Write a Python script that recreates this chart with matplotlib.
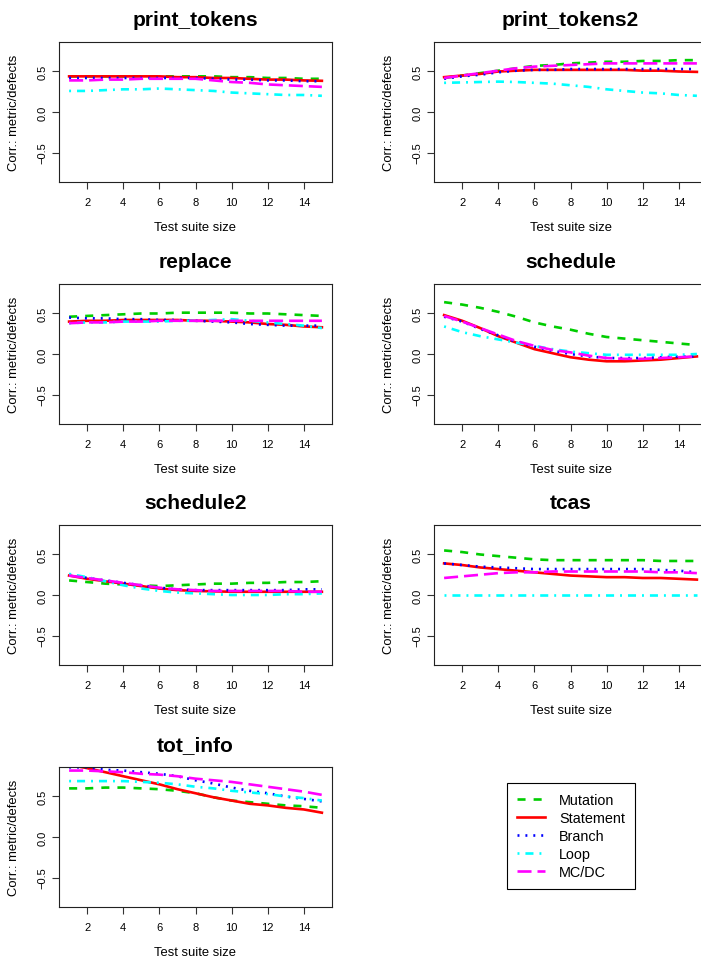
import matplotlib
matplotlib.use("Agg")
import matplotlib.pyplot as plt
from matplotlib.lines import Line2D

plt.rcParams["font.family"] = ["Liberation Sans", "DejaVu Sans"]
plt.rcParams["lines.scale_dashes"] = False

SIZES = list(range(1, 16))
METRICS = ["Mutation", "Statement", "Branch", "Loop", "MC/DC"]
PROGRAMS = ["print_tokens", "print_tokens2", "replace", "schedule", "schedule2", "tcas", "tot_info"]

# rows: Mutation, Statement, Branch, Loop, MC/DC
PRINT_TOKENS = [
    [0.44, 0.44, 0.44, 0.44, 0.44, 0.44, 0.44, 0.44, 0.44, 0.43, 0.43, 0.42, 0.42, 0.41, 0.41],
    [0.44, 0.44, 0.44, 0.44, 0.44, 0.44, 0.43, 0.43, 0.42, 0.42, 0.41, 0.40, 0.40, 0.39, 0.385],
    [0.42, 0.42, 0.42, 0.42, 0.42, 0.42, 0.42, 0.42, 0.41, 0.40, 0.40, 0.39, 0.39, 0.38, 0.38],
    [0.26, 0.26, 0.27, 0.28, 0.28, 0.29, 0.28, 0.27, 0.26, 0.24, 0.23, 0.22, 0.21, 0.21, 0.20],
    [0.39, 0.39, 0.40, 0.40, 0.41, 0.41, 0.41, 0.41, 0.39, 0.37, 0.36, 0.34, 0.33, 0.32, 0.31],
]
PRINT_TOKENS2 = [
    [0.42, 0.45, 0.48, 0.51, 0.54, 0.57, 0.58, 0.60, 0.61, 0.62, 0.62, 0.63, 0.63, 0.64, 0.64],
    [0.43, 0.45, 0.47, 0.50, 0.51, 0.52, 0.52, 0.52, 0.52, 0.52, 0.52, 0.51, 0.51, 0.50, 0.495],
    [0.41, 0.44, 0.46, 0.49, 0.51, 0.52, 0.52, 0.53, 0.53, 0.53, 0.53, 0.53, 0.53, 0.53, 0.53],
    [0.36, 0.365, 0.37, 0.375, 0.37, 0.36, 0.35, 0.33, 0.31, 0.28, 0.26, 0.24, 0.23, 0.21, 0.20],
    [0.42, 0.45, 0.48, 0.51, 0.54, 0.56, 0.57, 0.58, 0.59, 0.60, 0.60, 0.60, 0.60, 0.60, 0.60],
]
REPLACE = [
    [0.46, 0.47, 0.48, 0.49, 0.50, 0.50, 0.51, 0.51, 0.51, 0.51, 0.50, 0.50, 0.49, 0.48, 0.47],
    [0.40, 0.41, 0.41, 0.42, 0.42, 0.42, 0.42, 0.41, 0.41, 0.40, 0.39, 0.37, 0.36, 0.34, 0.33],
    [0.45, 0.44, 0.44, 0.43, 0.43, 0.42, 0.42, 0.41, 0.40, 0.39, 0.37, 0.36, 0.35, 0.35, 0.35],
    [0.38, 0.39, 0.39, 0.40, 0.40, 0.40, 0.41, 0.41, 0.42, 0.43, 0.41, 0.39, 0.37, 0.35, 0.32],
    [0.38, 0.39, 0.39, 0.40, 0.40, 0.41, 0.41, 0.41, 0.41, 0.41, 0.41, 0.41, 0.41, 0.41, 0.41],
]
SCHEDULE = [
    [0.64, 0.61, 0.57, 0.52, 0.46, 0.39, 0.34, 0.30, 0.25, 0.21, 0.19, 0.17, 0.15, 0.13, 0.11],
    [0.48, 0.41, 0.32, 0.22, 0.14, 0.06, 0.01, -0.04, -0.07, -0.09, -0.09, -0.08, -0.07, -0.05, -0.03],
    [0.46, 0.40, 0.31, 0.23, 0.15, 0.09, 0.04, 0.00, -0.03, -0.05, -0.05, -0.05, -0.04, -0.03, -0.03],
    [0.34, 0.27, 0.22, 0.18, 0.14, 0.10, 0.06, 0.03, 0.01, -0.01, -0.01, -0.01, -0.01, -0.01, 0.00],
    [0.47, 0.40, 0.32, 0.24, 0.16, 0.10, 0.05, 0.02, -0.02, -0.05, -0.06, -0.06, -0.05, -0.04, -0.03],
]
SCHEDULE2 = [
    [0.18, 0.16, 0.14, 0.13, 0.12, 0.11, 0.12, 0.13, 0.14, 0.14, 0.15, 0.15, 0.16, 0.16, 0.17],
    [0.24, 0.20, 0.17, 0.14, 0.11, 0.08, 0.06, 0.05, 0.045, 0.04, 0.04, 0.04, 0.04, 0.04, 0.04],
    [0.25, 0.21, 0.18, 0.15, 0.12, 0.09, 0.07, 0.06, 0.06, 0.06, 0.06, 0.06, 0.06, 0.07, 0.07],
    [0.26, 0.22, 0.17, 0.12, 0.08, 0.05, 0.03, 0.02, 0.01, 0.00, 0.00, 0.00, 0.01, 0.01, 0.02],
    [0.24, 0.21, 0.18, 0.15, 0.12, 0.09, 0.07, 0.06, 0.05, 0.05, 0.05, 0.05, 0.05, 0.04, 0.04],
]
TCAS = [
    [0.55, 0.53, 0.50, 0.48, 0.46, 0.44, 0.43, 0.43, 0.43, 0.43, 0.43, 0.43, 0.42, 0.42, 0.42],
    [0.39, 0.37, 0.34, 0.32, 0.30, 0.28, 0.26, 0.24, 0.23, 0.22, 0.22, 0.21, 0.21, 0.20, 0.19],
    [0.39, 0.37, 0.35, 0.34, 0.33, 0.32, 0.32, 0.32, 0.32, 0.32, 0.32, 0.32, 0.31, 0.30, 0.28],
    [0.00, 0.00, 0.00, 0.00, 0.00, 0.00, 0.00, 0.00, 0.00, 0.00, 0.00, 0.00, 0.00, 0.00, 0.00],
    [0.21, 0.23, 0.25, 0.27, 0.28, 0.28, 0.29, 0.29, 0.29, 0.29, 0.29, 0.29, 0.28, 0.28, 0.27],
]
TOT_INFO = [
    [0.60, 0.60, 0.61, 0.61, 0.60, 0.59, 0.57, 0.54, 0.49, 0.45, 0.43, 0.41, 0.39, 0.38, 0.36],
    [0.89, 0.85, 0.80, 0.75, 0.70, 0.65, 0.59, 0.54, 0.49, 0.45, 0.41, 0.39, 0.36, 0.34, 0.30],
    [0.86, 0.86, 0.83, 0.82, 0.80, 0.78, 0.75, 0.70, 0.66, 0.61, 0.57, 0.54, 0.50, 0.47, 0.44],
    [0.69, 0.69, 0.69, 0.69, 0.68, 0.67, 0.65, 0.62, 0.60, 0.57, 0.55, 0.53, 0.50, 0.48, 0.45],
    [0.82, 0.82, 0.81, 0.80, 0.78, 0.77, 0.75, 0.72, 0.70, 0.68, 0.65, 0.62, 0.59, 0.56, 0.52],
]
DATA = [PRINT_TOKENS, PRINT_TOKENS2, REPLACE, SCHEDULE, SCHEDULE2, TCAS, TOT_INFO]

COLORS = ["#00CD00", "#FF0000", "#0000FF", "#00FFFF", "#FF00FF"]
# R-like line types, dash lengths in points
STYLES = [(0, (5.8, 5.8)), "-", (0, (1.4, 4.3)), (0, (1.4, 4.3, 5.8, 4.3)), (0, (10.1, 4.3))]
LW = 1.9

W, H = 701, 962
fig = plt.figure(figsize=(W / 100, H / 100), dpi=100)

col_left = [59, 434]
row_top = [43, 285, 526, 768]
ax_w, ax_h = 273, 140

for i, (name, series) in enumerate(zip(PROGRAMS, DATA)):
    r, c = divmod(i, 2)
    left = col_left[c] / W
    bottom = (H - row_top[r] - ax_h) / H
    ax = fig.add_axes([left, bottom, ax_w / W, ax_h / H])
    for vals, col, ls in zip(series, COLORS, STYLES):
        ax.plot(SIZES, vals, color=col, linestyle=ls, linewidth=LW)
    ax.set_xlim(0.44, 15.56)
    ax.set_ylim(-0.864, 0.864)
    ax.set_xticks([2, 4, 6, 8, 10, 12, 14])
    ax.set_yticks([-0.5, 0.0, 0.5])
    ax.set_yticklabels(["\u22120.5", "0.0", "0.5"], rotation=90, va="center")
    ax.tick_params(length=5, width=0.8, labelsize=8, color="#333333")
    ax.tick_params(axis="x", pad=5.5)
    ax.tick_params(axis="y", pad=3.5)
    for sp in ax.spines.values():
        sp.set_linewidth(0.8)
        sp.set_color("#222222")
    ax.annotate(name, xy=(0.5, 1), xycoords="axes fraction", xytext=(0, 12),
                textcoords="offset points", ha="center", va="baseline",
                fontsize=15, fontweight="bold")
    ax.annotate("Test suite size", xy=(0.5, 0), xycoords="axes fraction", xytext=(0, -32.4),
                textcoords="offset points", ha="center", va="center", fontsize=9.4)
    ax.annotate("Corr.: metric/defects", xy=(0, 0.5), xycoords="axes fraction", xytext=(-32.4, 0),
                textcoords="offset points", ha="center", va="center", rotation=90, fontsize=9.4)

handles = [Line2D([], [], color=col, linestyle=ls, linewidth=LW) for col, ls in zip(COLORS, STYLES)]
leg = fig.legend(handles, METRICS, loc="upper left", bbox_to_anchor=(507 / W, 1 - 784 / H),
                 borderaxespad=0, fontsize=10.4, frameon=True, fancybox=False,
                 edgecolor="black", framealpha=1, handlelength=1.95, handletextpad=0.95,
                 labelspacing=0.28, borderpad=0.7)
leg.get_frame().set_linewidth(0.8)

fig.savefig("out.png", dpi=100)
